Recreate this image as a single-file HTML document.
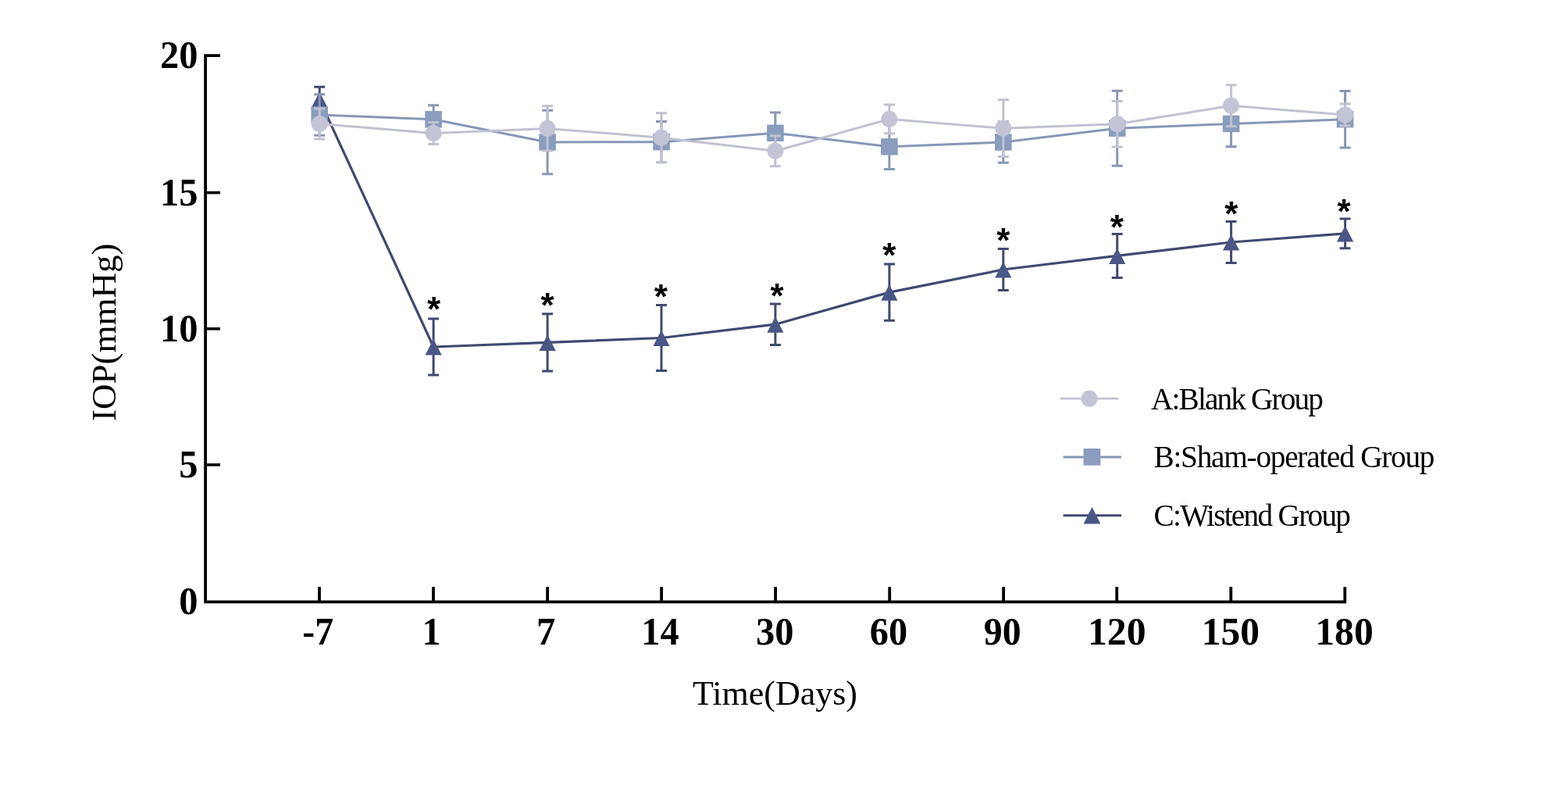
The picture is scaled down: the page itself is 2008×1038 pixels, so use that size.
<!DOCTYPE html>
<html><head><meta charset="utf-8"><title>IOP chart</title><style>html,body{margin:0;padding:0;background:#fff;}svg{display:block;}</style></head>
<body>
<svg width="2008" height="1038" viewBox="0 0 2008 1038">
<rect width="2008" height="1038" fill="#fff"/>
<path d="M282 71.1H263.1V770.3H1722.3V751.2" fill="none" stroke="#000" stroke-width="3.8" stroke-linejoin="miter"/>
<path d="M263 246.6H282" stroke="#000" stroke-width="3.6"/>
<path d="M263 420.8H282" stroke="#000" stroke-width="3.6"/>
<path d="M263 594.9H282" stroke="#000" stroke-width="3.6"/>
<path d="M409.0 770.3V751.2" stroke="#000" stroke-width="3.8"/>
<path d="M555.0 770.3V751.2" stroke="#000" stroke-width="3.8"/>
<path d="M701.1 770.3V751.2" stroke="#000" stroke-width="3.8"/>
<path d="M847.1 770.3V751.2" stroke="#000" stroke-width="3.8"/>
<path d="M993.1 770.3V751.2" stroke="#000" stroke-width="3.8"/>
<path d="M1139.2 770.3V751.2" stroke="#000" stroke-width="3.8"/>
<path d="M1285.1 770.3V751.2" stroke="#000" stroke-width="3.8"/>
<path d="M1430.2 770.3V751.2" stroke="#000" stroke-width="3.8"/>
<path d="M1576.3 770.3V751.2" stroke="#000" stroke-width="3.8"/>
<text transform="translate(253.5 87.1) scale(0.97 1)" text-anchor="end" font-family="Liberation Serif, serif" font-weight="bold" font-size="50">20</text>
<text transform="translate(253.5 262.6) scale(0.97 1)" text-anchor="end" font-family="Liberation Serif, serif" font-weight="bold" font-size="50">15</text>
<text transform="translate(253.5 436.8) scale(0.97 1)" text-anchor="end" font-family="Liberation Serif, serif" font-weight="bold" font-size="50">10</text>
<text transform="translate(253.5 610.9) scale(0.97 1)" text-anchor="end" font-family="Liberation Serif, serif" font-weight="bold" font-size="50">5</text>
<text transform="translate(253.5 786.3) scale(0.97 1)" text-anchor="end" font-family="Liberation Serif, serif" font-weight="bold" font-size="50">0</text>
<text transform="translate(407.2 825) scale(0.955 1)" text-anchor="middle" font-family="Liberation Serif, serif" font-weight="bold" font-size="50">-7</text>
<text transform="translate(552.4 825) scale(0.955 1)" text-anchor="middle" font-family="Liberation Serif, serif" font-weight="bold" font-size="50">1</text>
<text transform="translate(699.2 825) scale(0.97 1)" text-anchor="middle" font-family="Liberation Serif, serif" font-weight="bold" font-size="50">7</text>
<text transform="translate(845.4 825) scale(0.967 1)" text-anchor="middle" font-family="Liberation Serif, serif" font-weight="bold" font-size="50">14</text>
<text transform="translate(992.2 825) scale(0.97 1)" text-anchor="middle" font-family="Liberation Serif, serif" font-weight="bold" font-size="50">30</text>
<text transform="translate(1137.9 825) scale(0.966 1)" text-anchor="middle" font-family="Liberation Serif, serif" font-weight="bold" font-size="50">60</text>
<text transform="translate(1283.7 825) scale(0.957 1)" text-anchor="middle" font-family="Liberation Serif, serif" font-weight="bold" font-size="50">90</text>
<text transform="translate(1430.2 825) scale(0.994 1)" text-anchor="middle" font-family="Liberation Serif, serif" font-weight="bold" font-size="50">120</text>
<text transform="translate(1575.8 825) scale(0.991 1)" text-anchor="middle" font-family="Liberation Serif, serif" font-weight="bold" font-size="50">150</text>
<text transform="translate(1721.5 825) scale(0.993 1)" text-anchor="middle" font-family="Liberation Serif, serif" font-weight="bold" font-size="50">180</text>
<text x="992.5" y="902" text-anchor="middle" font-family="Liberation Serif, serif" font-size="44">Time(Days)</text>
<text transform="translate(147.6 425.3) rotate(-90)" text-anchor="middle" font-family="Liberation Serif, serif" font-size="45">IOP(mmHg)</text>
<polyline points="409.2,127.6 555.1,444.0 701.1,438.4 847.0,432.5 992.9,415.2 1138.9,374.1 1284.8,345.0 1430.7,327.4 1576.6,310.0 1722.6,298.9" fill="none" stroke="#404a70" stroke-width="3.2" stroke-linejoin="round"/>
<path d="M409.2 111.3V143.9M402.2 111.3H416.2M402.2 143.9H416.2" stroke="#404a70" stroke-width="3.0" fill="none"/>
<path d="M555.1 407.9V480.1M548.1 407.9H562.1M548.1 480.1H562.1" stroke="#404a70" stroke-width="3.0" fill="none"/>
<path d="M701.1 401.7V475.1M694.1 401.7H708.1M694.1 475.1H708.1" stroke="#404a70" stroke-width="3.0" fill="none"/>
<path d="M847.0 390.5V474.5M840.0 390.5H854.0M840.0 474.5H854.0" stroke="#404a70" stroke-width="3.0" fill="none"/>
<path d="M992.9 388.9V441.5M985.9 388.9H999.9M985.9 441.5H999.9" stroke="#404a70" stroke-width="3.0" fill="none"/>
<path d="M1138.9 337.9V410.3M1131.9 337.9H1145.9M1131.9 410.3H1145.9" stroke="#404a70" stroke-width="3.0" fill="none"/>
<path d="M1284.8 318.5V371.5M1277.8 318.5H1291.8M1277.8 371.5H1291.8" stroke="#404a70" stroke-width="3.0" fill="none"/>
<path d="M1430.7 299.4V355.4M1423.7 299.4H1437.7M1423.7 355.4H1437.7" stroke="#404a70" stroke-width="3.0" fill="none"/>
<path d="M1576.6 283.5V336.5M1569.6 283.5H1583.6M1569.6 336.5H1583.6" stroke="#404a70" stroke-width="3.0" fill="none"/>
<path d="M1722.6 280.0V317.8M1715.6 280.0H1729.6M1715.6 317.8H1729.6" stroke="#404a70" stroke-width="3.0" fill="none"/>
<path d="M409.2 117.6L419.8 138.2H398.6Z" fill="#4a5686"/>
<path d="M555.1 434.0L565.7 454.6H544.5Z" fill="#4a5686"/>
<path d="M701.1 428.4L711.7 449.0H690.5Z" fill="#4a5686"/>
<path d="M847.0 422.5L857.6 443.1H836.4Z" fill="#4a5686"/>
<path d="M992.9 405.2L1003.5 425.8H982.3Z" fill="#4a5686"/>
<path d="M1138.9 364.1L1149.5 384.7H1128.3Z" fill="#4a5686"/>
<path d="M1284.8 335.0L1295.4 355.6H1274.2Z" fill="#4a5686"/>
<path d="M1430.7 317.4L1441.3 338.0H1420.1Z" fill="#4a5686"/>
<path d="M1576.6 300.0L1587.2 320.6H1566.0Z" fill="#4a5686"/>
<path d="M1722.6 288.9L1733.2 309.5H1712.0Z" fill="#4a5686"/>
<polyline points="409.2,147.0 555.1,152.8 701.1,182.0 847.0,181.7 992.9,170.3 1138.9,187.8 1284.8,182.0 1430.7,164.2 1576.6,158.4 1722.6,152.7" fill="none" stroke="#8897b6" stroke-width="3.0" stroke-linejoin="round"/>
<path d="M409.2 120.7V173.3M402.2 120.7H416.2M402.2 173.3H416.2" stroke="#8897b6" stroke-width="3.0" fill="none"/>
<path d="M555.1 134.7V170.9M548.1 134.7H562.1M548.1 170.9H562.1" stroke="#8897b6" stroke-width="3.0" fill="none"/>
<path d="M701.1 141.2V222.8M694.1 141.2H708.1M694.1 222.8H708.1" stroke="#8897b6" stroke-width="3.0" fill="none"/>
<path d="M847.0 155.6V207.8M840.0 155.6H854.0M840.0 207.8H854.0" stroke="#8897b6" stroke-width="3.0" fill="none"/>
<path d="M992.9 143.9V196.7M985.9 143.9H999.9M985.9 196.7H999.9" stroke="#8897b6" stroke-width="3.0" fill="none"/>
<path d="M1138.9 159.1V216.5M1131.9 159.1H1145.9M1131.9 216.5H1145.9" stroke="#8897b6" stroke-width="3.0" fill="none"/>
<path d="M1284.8 155.7V208.3M1277.8 155.7H1291.8M1277.8 208.3H1291.8" stroke="#8897b6" stroke-width="3.0" fill="none"/>
<path d="M1430.7 116.2V212.2M1423.7 116.2H1437.7M1423.7 212.2H1437.7" stroke="#8897b6" stroke-width="3.0" fill="none"/>
<path d="M1576.6 129.0V187.8M1569.6 129.0H1583.6M1569.6 187.8H1583.6" stroke="#8897b6" stroke-width="3.0" fill="none"/>
<path d="M1722.6 116.4V189.0M1715.6 116.4H1729.6M1715.6 189.0H1729.6" stroke="#8897b6" stroke-width="3.0" fill="none"/>
<rect x="398.4" y="136.3" width="21.6" height="21.4" fill="#8a9dbe"/>
<rect x="544.3" y="142.1" width="21.6" height="21.4" fill="#8a9dbe"/>
<rect x="690.3" y="171.3" width="21.6" height="21.4" fill="#8a9dbe"/>
<rect x="836.2" y="171.0" width="21.6" height="21.4" fill="#8a9dbe"/>
<rect x="982.1" y="159.6" width="21.6" height="21.4" fill="#8a9dbe"/>
<rect x="1128.1" y="177.1" width="21.6" height="21.4" fill="#8a9dbe"/>
<rect x="1274.0" y="171.3" width="21.6" height="21.4" fill="#8a9dbe"/>
<rect x="1419.9" y="153.5" width="21.6" height="21.4" fill="#8a9dbe"/>
<rect x="1565.8" y="147.7" width="21.6" height="21.4" fill="#8a9dbe"/>
<rect x="1711.8" y="142.0" width="21.6" height="21.4" fill="#8a9dbe"/>
<polyline points="409.2,158.5 555.1,170.5 701.1,164.4 847.0,176.2 992.9,193.3 1138.9,152.4 1284.8,164.2 1430.7,158.7 1576.6,135.3 1722.6,147.0" fill="none" stroke="#c0c1d1" stroke-width="3.0" stroke-linejoin="round"/>
<path d="M409.2 139.0V178.0M402.2 139.0H416.2M402.2 178.0H416.2" stroke="#c0c1d1" stroke-width="3.0" fill="none"/>
<path d="M555.1 156.5V184.5M548.1 156.5H562.1M548.1 184.5H562.1" stroke="#c0c1d1" stroke-width="3.0" fill="none"/>
<path d="M701.1 135.7V193.1M694.1 135.7H708.1M694.1 193.1H708.1" stroke="#c0c1d1" stroke-width="3.0" fill="none"/>
<path d="M847.0 144.7V207.7M840.0 144.7H854.0M840.0 207.7H854.0" stroke="#c0c1d1" stroke-width="3.0" fill="none"/>
<path d="M992.9 173.8V212.8M985.9 173.8H999.9M985.9 212.8H999.9" stroke="#c0c1d1" stroke-width="3.0" fill="none"/>
<path d="M1138.9 134.1V170.7M1131.9 134.1H1145.9M1131.9 170.7H1145.9" stroke="#c0c1d1" stroke-width="3.0" fill="none"/>
<path d="M1284.8 127.8V200.6M1277.8 127.8H1291.8M1277.8 200.6H1291.8" stroke="#c0c1d1" stroke-width="3.0" fill="none"/>
<path d="M1430.7 129.5V187.9M1423.7 129.5H1437.7M1423.7 187.9H1437.7" stroke="#c0c1d1" stroke-width="3.0" fill="none"/>
<path d="M1576.6 108.8V161.8M1569.6 108.8H1583.6M1569.6 161.8H1583.6" stroke="#c0c1d1" stroke-width="3.0" fill="none"/>
<path d="M1722.6 133.0V161.0M1715.6 133.0H1729.6M1715.6 161.0H1729.6" stroke="#c0c1d1" stroke-width="3.0" fill="none"/>
<circle cx="409.2" cy="158.5" r="10.6" fill="#c3c4d6"/>
<circle cx="555.1" cy="170.5" r="10.6" fill="#c3c4d6"/>
<circle cx="701.1" cy="164.4" r="10.6" fill="#c3c4d6"/>
<circle cx="847.0" cy="176.2" r="10.6" fill="#c3c4d6"/>
<circle cx="992.9" cy="193.3" r="10.6" fill="#c3c4d6"/>
<circle cx="1138.9" cy="152.4" r="10.6" fill="#c3c4d6"/>
<circle cx="1284.8" cy="164.2" r="10.6" fill="#c3c4d6"/>
<circle cx="1430.7" cy="158.7" r="10.6" fill="#c3c4d6"/>
<circle cx="1576.6" cy="135.3" r="10.6" fill="#c3c4d6"/>
<circle cx="1722.6" cy="147.0" r="10.6" fill="#c3c4d6"/>
<text x="555.5" y="411.0" text-anchor="middle" font-family="Liberation Sans, sans-serif" font-weight="bold" font-size="44">*</text>
<text x="701.1" y="405.6" text-anchor="middle" font-family="Liberation Sans, sans-serif" font-weight="bold" font-size="44">*</text>
<text x="846.4" y="395.0" text-anchor="middle" font-family="Liberation Sans, sans-serif" font-weight="bold" font-size="44">*</text>
<text x="995.0" y="393.9" text-anchor="middle" font-family="Liberation Sans, sans-serif" font-weight="bold" font-size="44">*</text>
<text x="1138.7" y="341.5" text-anchor="middle" font-family="Liberation Sans, sans-serif" font-weight="bold" font-size="44">*</text>
<text x="1284.8" y="323.0" text-anchor="middle" font-family="Liberation Sans, sans-serif" font-weight="bold" font-size="44">*</text>
<text x="1430.4" y="306.0" text-anchor="middle" font-family="Liberation Sans, sans-serif" font-weight="bold" font-size="44">*</text>
<text x="1576.8" y="288.5" text-anchor="middle" font-family="Liberation Sans, sans-serif" font-weight="bold" font-size="44">*</text>
<text x="1721.0" y="286.4" text-anchor="middle" font-family="Liberation Sans, sans-serif" font-weight="bold" font-size="44">*</text>
<path d="M1358 510.1H1432" stroke="#c0c1d1" stroke-width="2.8"/><circle cx="1395" cy="510.2" r="10.6" fill="#c3c4d6"/>
<path d="M1361.5 585H1436" stroke="#8897b6" stroke-width="2.9"/><rect x="1387.5" y="574.1" width="21.8" height="21.6" fill="#8a9dbe"/>
<path d="M1361.5 659.8H1436" stroke="#404a70" stroke-width="3.1"/><path d="M1398.5 649L1409.4 670.6H1387.6Z" fill="#4a5686"/>
<text x="1474" y="523.6" font-family="Liberation Serif, serif" font-size="39.3" textLength="221" lengthAdjust="spacing">A:Blank Group</text>
<text x="1477.5" y="597.8" font-family="Liberation Serif, serif" font-size="39.3" textLength="360" lengthAdjust="spacing">B:Sham-operated Group</text>
<text x="1477.5" y="672.9" font-family="Liberation Serif, serif" font-size="39.3" textLength="252.5" lengthAdjust="spacing">C:Wistend Group</text>
</svg>
</body></html>
